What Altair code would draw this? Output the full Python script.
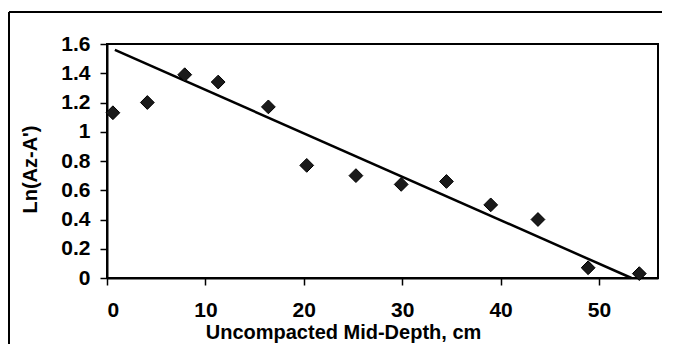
import altair as alt
import pandas as pd

# measured data
depth = [0.6, 4.1, 7.9, 11.3, 16.4, 20.3, 25.3, 29.9, 34.5, 39.0, 43.8, 48.9, 54.1]
ln_val = [1.13, 1.20, 1.39, 1.34, 1.17, 0.77, 0.70, 0.64, 0.66, 0.50, 0.40, 0.07, 0.03]

# trend line end points
fit_x = [0.8, 53.3]
fit_y = [1.56, 0.0]

x_ticks = [0, 10, 20, 30, 40, 50]
y_ticks = [0, 0.2, 0.4, 0.6, 0.8, 1.0, 1.2, 1.4, 1.6]

pts = pd.DataFrame({"x": depth, "y": ln_val})
fit = pd.DataFrame({"x": fit_x, "y": fit_y})

FONT = "Liberation Sans"

xscale = alt.Scale(domain=[0, 56], nice=False, zero=False)
yscale = alt.Scale(domain=[0, 1.6], nice=False)

xaxis = alt.Axis(values=x_ticks, title="Uncompacted Mid-Depth, cm", grid=False,
                 titleX=236, titleAlign="center", labelOverlap=False)
yaxis = alt.Axis(values=y_ticks, format=".1~f", title="Ln(Az-A')", grid=False,
                 labelOverlap=False, labelBound=False, labelFlush=False,
                 tickCount=9, titleY=125)

line = alt.Chart(fit).mark_line(color="black", strokeWidth=2.5).encode(
    x=alt.X("x:Q", scale=xscale, axis=xaxis),
    y=alt.Y("y:Q", scale=yscale, axis=yaxis),
)

points = alt.Chart(pts).mark_point(
    shape="diamond", filled=True, size=190, color="#1a1a1a",
    stroke="black", strokeWidth=1, opacity=1,
).encode(
    x=alt.X("x:Q", scale=xscale, axis=xaxis),
    y=alt.Y("y:Q", scale=yscale, axis=yaxis),
)

# outer frame (top and left edges of the scanned figure border)
frame_top = alt.Chart(pts).mark_rule(color="black", strokeWidth=2).encode(
    x=alt.value(-98), x2=alt.value(555), y=alt.value(-32)
)
frame_left = alt.Chart(pts).mark_rule(color="black", strokeWidth=2).encode(
    x=alt.value(-98), y=alt.value(-32), y2=alt.value(300)
)

chart = alt.layer(frame_top, frame_left, line, points).properties(
    width=551, height=234,
    padding={"left": 0, "top": 3, "right": 0, "bottom": 0},
).configure_view(
    stroke="black", strokeWidth=2
).configure_axis(
    domainColor="black", domainWidth=2,
    tickColor="black", tickWidth=1.5, tickSize=7,
    labelOverlap=False,
    labelFont=FONT, labelFontWeight="bold", labelFontSize=21, labelColor="black",
    titleFont=FONT, titleFontWeight="bold", titleFontSize=20, titleColor="black",
).configure_axisX(
    labelPadding=14, titlePadding=2,
).configure_axisY(
    labelPadding=10, titlePadding=20,
)

chart.save("out.html", embed_options={"renderer": "svg", "actions": False})
